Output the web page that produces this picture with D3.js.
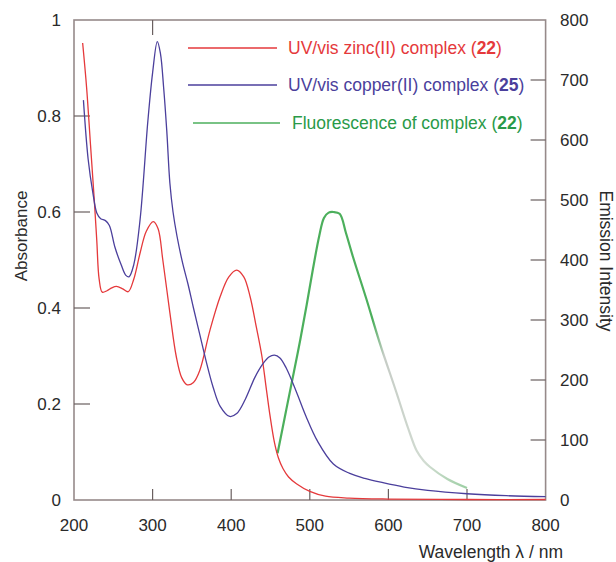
<!DOCTYPE html>
<html>
<head>
<meta charset="utf-8">
<script src="https://cdn.jsdelivr.net/npm/d3@7"></script>
<style>
  html, body { margin: 0; padding: 0; background: #fff; }
  svg { display: block; font-family: "Liberation Sans", Arial, sans-serif; }
</style>
</head>
<body>
<svg id="chart" width="616" height="562"></svg>
<script>
// UV/vis absorbance of the zinc(II) complex (22), nm -> absorbance
const zincWavelength = [211, 216, 221, 226, 229, 232, 236, 242, 248, 254, 262, 269, 276, 284, 292, 301, 307, 313, 322, 330, 337, 344, 352, 360, 373, 386, 397, 407, 416, 424, 432, 439, 444, 449, 455, 460, 466, 473, 483, 500, 520, 550, 600, 700, 800];
const zincAbs        = [0.952, 0.86, 0.74, 0.62, 0.54, 0.46, 0.433, 0.436, 0.442, 0.445, 0.44, 0.434, 0.46, 0.514, 0.56, 0.58, 0.565, 0.50, 0.39, 0.30, 0.255, 0.24, 0.245, 0.27, 0.354, 0.424, 0.465, 0.479, 0.465, 0.424, 0.36, 0.30, 0.24, 0.18, 0.12, 0.088, 0.065, 0.048, 0.034, 0.018, 0.008, 0.004, 0.002, 0.001, 0.001];

// UV/vis absorbance of the copper(II) complex (25)
const copperWavelength = [212, 218, 224, 229, 234, 240, 245, 252, 260, 266, 270, 276, 284, 294, 300, 306, 310, 314, 318, 322, 326, 331, 338, 345, 352, 360, 368, 377, 386, 398, 407, 418, 430, 440, 448, 455, 462, 470, 483, 495, 510, 530, 550, 570, 593, 620, 650, 700, 750, 800];
const copperAbs        = [0.833, 0.71, 0.64, 0.598, 0.586, 0.582, 0.572, 0.527, 0.49, 0.468, 0.465, 0.49, 0.583, 0.79, 0.89, 0.955, 0.93, 0.86, 0.77, 0.66, 0.60, 0.55, 0.495, 0.45, 0.40, 0.345, 0.29, 0.235, 0.195, 0.174, 0.18, 0.21, 0.255, 0.283, 0.298, 0.302, 0.296, 0.275, 0.225, 0.175, 0.122, 0.075, 0.056, 0.045, 0.036, 0.027, 0.02, 0.013, 0.009, 0.007];

// Fluorescence emission of complex (22), nm -> intensity
const fluorWavelength = [459, 470, 480, 488, 496, 504, 512, 518, 524, 530, 538, 546, 555, 572, 589, 610, 625, 636, 645, 653, 675, 700];
const fluorIntensity  = [78, 150, 215, 268, 325, 385, 440, 470, 479, 480, 477, 445, 405, 335, 262, 180, 120, 82, 65, 55, 35, 20];

// Axis ticks
const xTicks = [200, 300, 400, 500, 600, 700, 800];
const xInnerTicks = [300, 400, 500, 600, 700];
const xTopTicks = [300];
const absTicks = [0, 0.2, 0.4, 0.6, 0.8, 1];
const absInnerTicks = [0.2, 0.4, 0.6, 0.8];
const emTicks = [0, 100, 200, 300, 400, 500, 600, 700, 800];
const emInnerTicks = [100, 200, 300, 400, 500, 600, 700];

// Legend entries
const legendLabels = ["UV/vis zinc(II) complex ", "UV/vis copper(II) complex ", "Fluorescence of complex "];
const legendNumbers = ["22", "25", "22"];

const COL_ZINC = "#e5393b";
const COL_COPPER = "#4b3f9c";
const COL_FLUOR = "#4caf5c";
const COL_FRAME = "#968a8a";
const COL_TICK = "#6a6060";
const COL_TEXT = "#2a2a2a";

const svg = d3.select("#chart");

const x = d3.scaleLinear().domain([200, 800]).range([74, 545.6]);
const yAbs = d3.scaleLinear().domain([0, 1]).range([500, 20]);
const yEm = d3.scaleLinear().domain([0, 800]).range([500, 20]);

const [x0, x1] = x.range();
const [yb, yt] = yAbs.range();

// Frame
svg.append("rect")
  .attr("x", x0).attr("y", yt)
  .attr("width", x1 - x0).attr("height", yb - yt)
  .attr("fill", "none").attr("stroke", COL_FRAME).attr("stroke-width", 1.6);

// Inner tick marks
const ticks = svg.append("g").attr("stroke", COL_TICK).attr("stroke-width", 1.2);
ticks.selectAll(".tl").data(absInnerTicks).join("line")
  .attr("x1", x0).attr("x2", x0 + 16)
  .attr("y1", d => yAbs(d)).attr("y2", d => yAbs(d));
ticks.selectAll(".tr").data(emInnerTicks).join("line")
  .attr("x1", x1 - 15).attr("x2", x1)
  .attr("y1", d => yEm(d)).attr("y2", d => yEm(d));
ticks.selectAll(".tb").data(xInnerTicks).join("line")
  .attr("x1", d => x(d)).attr("x2", d => x(d))
  .attr("y1", yb - 11).attr("y2", yb);
ticks.selectAll(".tt").data(xTopTicks).join("line")
  .attr("x1", d => x(d)).attr("x2", d => x(d))
  .attr("y1", yt).attr("y2", yt + 15);

// Tick labels
const lab = svg.append("g").attr("fill", COL_TEXT).attr("font-size", 17);
lab.selectAll(".lx").data(xTicks).join("text")
  .attr("x", d => x(d)).attr("y", 531)
  .attr("text-anchor", "middle")
  .text(d => d);
lab.selectAll(".ly").data(absTicks).join("text")
  .attr("x", 61).attr("y", d => yAbs(d) + 6)
  .attr("text-anchor", "end")
  .text(d => d);
lab.selectAll(".le").data(emTicks).join("text")
  .attr("x", 560).attr("y", d => yEm(d) + 6)
  .attr("text-anchor", "start")
  .text(d => d);

// Axis titles
svg.append("text")
  .attr("transform", "translate(27,236) rotate(-90)")
  .attr("text-anchor", "middle").attr("font-size", 17).attr("fill", COL_TEXT)
  .text("Absorbance");
svg.append("text")
  .attr("transform", "translate(600,261) rotate(90)")
  .attr("text-anchor", "middle").attr("font-size", 17.5).attr("fill", COL_TEXT)
  .text("Emission Intensity");
svg.append("text")
  .attr("x", 563).attr("y", 558)
  .attr("text-anchor", "end").attr("font-size", 17.5).attr("fill", COL_TEXT)
  .text("Wavelength \u03bb / nm");

// Curves
const absLine = d3.line()
  .x(d => x(d[0])).y(d => yAbs(d[1]))
  .curve(d3.curveCatmullRom.alpha(0.5));
const emLine = d3.line()
  .x(d => x(d[0])).y(d => yEm(d[1]))
  .curve(d3.curveCatmullRom.alpha(0.5));

// Fluorescence fades out in its long-wavelength tail
const defs = svg.append("defs");
const grad = defs.append("linearGradient")
  .attr("id", "fluorFade").attr("gradientUnits", "userSpaceOnUse")
  .attr("x1", x(580)).attr("x2", x(700)).attr("y1", 0).attr("y2", 0);
grad.append("stop").attr("offset", 0).attr("stop-color", COL_FLUOR);
grad.append("stop").attr("offset", 0.12).attr("stop-color", "#c6ccc6");
grad.append("stop").attr("offset", 0.55).attr("stop-color", "#d2dcd2");
grad.append("stop").attr("offset", 1).attr("stop-color", "#9ccfa3");

svg.append("path")
  .datum(d3.zip(fluorWavelength, fluorIntensity))
  .attr("d", emLine)
  .attr("fill", "none").attr("stroke", "url(#fluorFade)")
  .attr("stroke-width", 2.2).attr("stroke-linejoin", "round");

svg.append("path")
  .datum(d3.zip(zincWavelength, zincAbs))
  .attr("d", absLine)
  .attr("fill", "none").attr("stroke", COL_ZINC).attr("stroke-width", 1.3);

svg.append("path")
  .datum(d3.zip(copperWavelength, copperAbs))
  .attr("d", absLine)
  .attr("fill", "none").attr("stroke", COL_COPPER).attr("stroke-width", 1.3);

// Legend
const legendColors = [COL_ZINC, COL_COPPER, "#2a9a48"];
const legendY = [48, 85, 123];
const legendLineX = [[188, 277], [188, 277], [193, 280]];
const legendTextX = [288, 288, 292];
const legendLineColors = [COL_ZINC, COL_COPPER, COL_FLUOR];
const lg = svg.append("g");
legendLabels.forEach((t, i) => {
  lg.append("line")
    .attr("x1", legendLineX[i][0]).attr("x2", legendLineX[i][1])
    .attr("y1", legendY[i]).attr("y2", legendY[i])
    .attr("stroke", legendLineColors[i]).attr("stroke-width", 1.3);
  const tx = lg.append("text")
    .attr("x", legendTextX[i]).attr("y", legendY[i] + 6)
    .attr("font-size", 17.5).attr("fill", legendColors[i]);
  tx.append("tspan").text(t + "(");
  tx.append("tspan").attr("font-weight", "bold").text(legendNumbers[i]);
  tx.append("tspan").text(")");
});
</script>
</body>
</html>
